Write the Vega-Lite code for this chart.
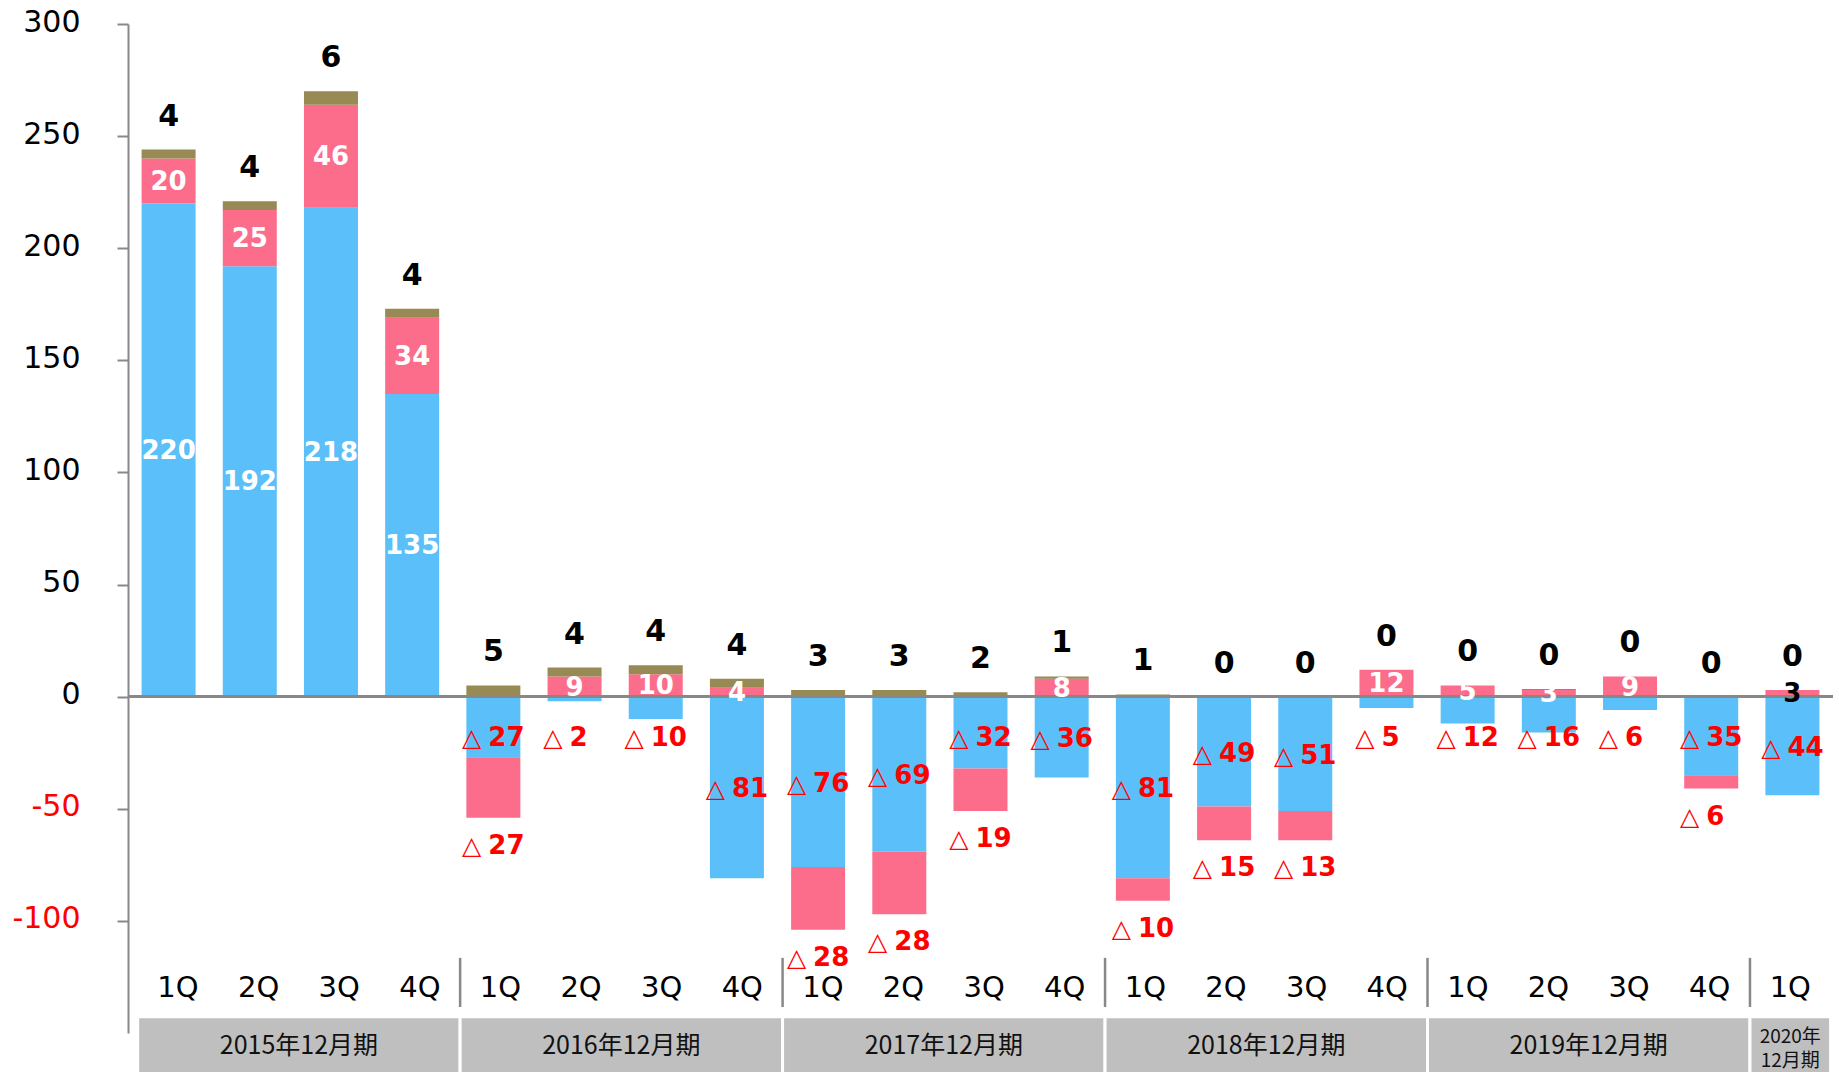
{
  "$schema": "https://vega.github.io/schema/vega-lite/v6.json",
  "width": 1705,
  "height": 1009,
  "autosize": "none",
  "padding": {"left": 128, "top": 24, "right": 6, "bottom": 39},
  "background": "white",
  "config": {"view": {"stroke": null}},
  "datasets": {
    "quarters": [
      {"key": "2015-1Q", "year": "2015", "q": "1Q", "blue": 220, "pink": 20, "olive": 4},
      {"key": "2015-2Q", "year": "2015", "q": "2Q", "blue": 192, "pink": 25, "olive": 4},
      {"key": "2015-3Q", "year": "2015", "q": "3Q", "blue": 218, "pink": 46, "olive": 6},
      {"key": "2015-4Q", "year": "2015", "q": "4Q", "blue": 135, "pink": 34, "olive": 4},
      {"key": "2016-1Q", "year": "2016", "q": "1Q", "blue": -27, "pink": -27, "olive": 5},
      {"key": "2016-2Q", "year": "2016", "q": "2Q", "blue": -2, "pink": 9, "olive": 4},
      {"key": "2016-3Q", "year": "2016", "q": "3Q", "blue": -10, "pink": 10, "olive": 4},
      {"key": "2016-4Q", "year": "2016", "q": "4Q", "blue": -81, "pink": 4, "olive": 4},
      {"key": "2017-1Q", "year": "2017", "q": "1Q", "blue": -76, "pink": -28, "olive": 3},
      {"key": "2017-2Q", "year": "2017", "q": "2Q", "blue": -69, "pink": -28, "olive": 3},
      {"key": "2017-3Q", "year": "2017", "q": "3Q", "blue": -32, "pink": -19, "olive": 2},
      {"key": "2017-4Q", "year": "2017", "q": "4Q", "blue": -36, "pink": 8, "olive": 1},
      {"key": "2018-1Q", "year": "2018", "q": "1Q", "blue": -81, "pink": -10, "olive": 1},
      {"key": "2018-2Q", "year": "2018", "q": "2Q", "blue": -49, "pink": -15, "olive": 0},
      {"key": "2018-3Q", "year": "2018", "q": "3Q", "blue": -51, "pink": -13, "olive": 0},
      {"key": "2018-4Q", "year": "2018", "q": "4Q", "blue": -5, "pink": 12, "olive": 0},
      {"key": "2019-1Q", "year": "2019", "q": "1Q", "blue": -12, "pink": 5, "olive": 0},
      {"key": "2019-2Q", "year": "2019", "q": "2Q", "blue": -16, "pink": 3, "olive": 0.4},
      {"key": "2019-3Q", "year": "2019", "q": "3Q", "blue": -6, "pink": 9, "olive": 0},
      {"key": "2019-4Q", "year": "2019", "q": "4Q", "blue": -35, "pink": -6, "olive": 0},
      {"key": "2020-1Q", "year": "2020", "q": "1Q", "blue": -44, "pink": 3, "olive": 0}
    ],
    "years": [
      {"label": "2015年12月期", "s": 0, "e": 4},
      {"label": "2016年12月期", "s": 4, "e": 8},
      {"label": "2017年12月期", "s": 8, "e": 12},
      {"label": "2018年12月期", "s": 12, "e": 16},
      {"label": "2019年12月期", "s": 16, "e": 20},
      {"label": "2020年\n12月期", "s": 20, "e": 21}
    ]
  },
  "resolve": {"scale": {"x": "independent"}},
  "layer": [
    {
      "data": {"name": "quarters"},
      "transform": [
        {"fold": ["blue", "pink", "olive"], "as": ["series", "value"]},
        {"calculate": "indexof(['blue','pink','olive'], datum.series)", "as": "ord"},
        {"stack": "value", "groupby": ["key"], "sort": [{"field": "ord", "order": "ascending"}], "offset": "zero", "as": ["v0", "v1"]},
        {"calculate": "(datum.v0 + datum.v1) / 2", "as": "mid"},
        {"calculate": "min(datum.v0, datum.v1)", "as": "low"},
        {"calculate": "max(datum.v0, datum.v1)", "as": "high"},
        {"calculate": "format(abs(datum.value), '.0f')", "as": "absLabel"}
      ],
      "layer": [
        {
          "mark": {"type": "bar"},
          "encoding": {
            "x": {"field": "key", "type": "nominal", "scale": {"paddingInner": 0.335, "paddingOuter": 0.1675}, "axis": null},
            "y": {
              "field": "v0", "type": "quantitative",
              "scale": {"domain": [-150, 300], "nice": false, "zero": false},
              "axis": {
                "values": [-100, -50, 0, 50, 100, 150, 200, 250, 300],
                "labelExpr": "'' + datum.value",
                "grid": false, "title": null,
                "domainColor": "#888888", "domainWidth": 2,
                "tickColor": "#888888", "tickWidth": 2, "tickSize": 11,
                "labelPadding": 37, "labelFont": "DejaVu Sans", "labelFontSize": 30,
                "labelFlush": false, "labelOffset": -2,
                "labelColor": {"condition": {"test": "datum.value < 0", "value": "#FF0000"}, "value": "#000000"}
              }
            },
            "y2": {"field": "v1"},
            "color": {
              "field": "series", "type": "nominal",
              "scale": {"domain": ["blue", "pink", "olive"], "range": ["#5BC0F9", "#FB6D8B", "#978A55"]},
              "legend": null
            }
          }
        },
        {
          "mark": {"type": "rule", "color": "#888888", "strokeWidth": 2.5},
          "encoding": {
            "y": {"datum": 0, "scale": {"domain": [-150, 300], "nice": false, "zero": false}, "axis": {"title": null}}
          }
        },
        {
          "transform": [{"filter": "datum.series != 'olive' && datum.value > 0"}],
          "mark": {"type": "text", "font": "DejaVu Sans", "fontWeight": "bold", "fontSize": 26, "align": "center", "baseline": "middle", "dy": 1},
          "encoding": {
            "x": {"field": "key", "type": "nominal", "axis": null},
            "y": {"field": "mid", "type": "quantitative", "scale": {"domain": [-150, 300], "nice": false, "zero": false}, "axis": {"title": null}},
            "text": {"field": "absLabel"},
            "color": {"condition": {"test": "datum.key == '2020-1Q'", "value": "#000000"}, "value": "#FFFFFF"}
          }
        },
        {
          "transform": [
            {"filter": "datum.series == 'blue' && datum.value < 0"},
            {"calculate": "min(datum.mid, -17.5)", "as": "ly"}
          ],
          "mark": {"type": "text", "font": "DejaVu Sans", "fontWeight": "normal", "fontSize": 25, "align": "right", "baseline": "middle", "dx": -12, "dy": 2, "color": "#FF0000"},
          "encoding": {
            "x": {"field": "key", "type": "nominal", "axis": null},
            "y": {"field": "ly", "type": "quantitative", "scale": {"domain": [-150, 300], "nice": false, "zero": false}, "axis": {"title": null}},
            "text": {"value": "△"}
          }
        },
        {
          "transform": [
            {"filter": "datum.series == 'blue' && datum.value < 0"},
            {"calculate": "min(datum.mid, -17.5)", "as": "ly"}
          ],
          "mark": {"type": "text", "font": "DejaVu Sans", "fontWeight": "bold", "fontSize": 26, "align": "left", "baseline": "middle", "dx": -5, "dy": 2, "color": "#FF0000"},
          "encoding": {
            "x": {"field": "key", "type": "nominal", "axis": null},
            "y": {"field": "ly", "type": "quantitative", "scale": {"domain": [-150, 300], "nice": false, "zero": false}, "axis": {"title": null}},
            "text": {"field": "absLabel"}
          }
        },
        {
          "transform": [{"filter": "datum.series == 'pink' && datum.value < 0"}],
          "mark": {"type": "text", "font": "DejaVu Sans", "fontWeight": "normal", "fontSize": 25, "align": "right", "baseline": "middle", "dx": -12, "dy": 28, "color": "#FF0000"},
          "encoding": {
            "x": {"field": "key", "type": "nominal", "axis": null},
            "y": {"field": "low", "type": "quantitative", "scale": {"domain": [-150, 300], "nice": false, "zero": false}, "axis": {"title": null}},
            "text": {"value": "△"}
          }
        },
        {
          "transform": [{"filter": "datum.series == 'pink' && datum.value < 0"}],
          "mark": {"type": "text", "font": "DejaVu Sans", "fontWeight": "bold", "fontSize": 26, "align": "left", "baseline": "middle", "dx": -5, "dy": 28, "color": "#FF0000"},
          "encoding": {
            "x": {"field": "key", "type": "nominal", "axis": null},
            "y": {"field": "low", "type": "quantitative", "scale": {"domain": [-150, 300], "nice": false, "zero": false}, "axis": {"title": null}},
            "text": {"field": "absLabel"}
          }
        },
        {
          "transform": [{"filter": "datum.series == 'olive'"}],
          "mark": {"type": "text", "font": "DejaVu Sans", "fontWeight": "bold", "fontSize": 30, "align": "center", "baseline": "middle", "dy": -33, "color": "#000000"},
          "encoding": {
            "x": {"field": "key", "type": "nominal", "axis": null},
            "y": {"field": "high", "type": "quantitative", "scale": {"domain": [-150, 300], "nice": false, "zero": false}, "axis": {"title": null}},
            "text": {"field": "absLabel"}
          }
        }
      ]
    },
    {
      "layer": [
        {
          "data": {"name": "years"},
          "mark": {"type": "rect", "fill": "#BFBFBF", "stroke": "#FFFFFF", "strokeWidth": 3},
          "encoding": {
            "x": {"field": "s", "type": "quantitative", "scale": {"domain": [-0.12, 21.03], "nice": false, "zero": false}, "axis": null},
            "x2": {"field": "e"},
            "y": {"datum": -142.7, "scale": {"domain": [-150, 300], "nice": false, "zero": false}, "axis": {"title": null}},
            "y2": {"datum": -170}
          }
        },
        {
          "data": {"name": "years"},
          "transform": [{"filter": "datum.s > 0"}],
          "mark": {"type": "rule", "color": "#888888", "strokeWidth": 2.5},
          "encoding": {
            "x": {"field": "s", "type": "quantitative", "scale": {"domain": [-0.12, 21.03], "nice": false, "zero": false}, "axis": null},
            "y": {"datum": -116.5, "scale": {"domain": [-150, 300], "nice": false, "zero": false}, "axis": {"title": null}},
            "y2": {"datum": -138.4}
          }
        },
        {
          "data": {"name": "years"},
          "transform": [
            {"filter": "datum.e - datum.s > 1"},
            {"calculate": "(datum.s + datum.e) / 2", "as": "m"}
          ],
          "mark": {"type": "text", "font": "Noto Sans CJK JP", "fontSize": 25, "align": "center", "baseline": "middle", "color": "#111111"},
          "encoding": {
            "x": {"field": "m", "type": "quantitative", "scale": {"domain": [-0.12, 21.03], "nice": false, "zero": false}, "axis": null},
            "y": {"datum": -156, "scale": {"domain": [-150, 300], "nice": false, "zero": false}, "axis": {"title": null}},
            "text": {"field": "label"}
          }
        },
        {
          "data": {"name": "years"},
          "transform": [
            {"filter": "datum.e - datum.s == 1"},
            {"calculate": "(datum.s + datum.e) / 2", "as": "m"}
          ],
          "mark": {"type": "text", "font": "Noto Sans CJK JP", "fontSize": 19, "lineHeight": 24, "lineBreak": "\n", "align": "center", "baseline": "middle", "dy": -9, "color": "#111111"},
          "encoding": {
            "x": {"field": "m", "type": "quantitative", "scale": {"domain": [-0.12, 21.03], "nice": false, "zero": false}, "axis": null},
            "y": {"datum": -156, "scale": {"domain": [-150, 300], "nice": false, "zero": false}, "axis": {"title": null}},
            "text": {"field": "label"}
          }
        },
        {
          "data": {"name": "quarters"},
          "transform": [
            {"window": [{"op": "row_number", "as": "i"}]},
            {"calculate": "datum.i - 0.5", "as": "c"}
          ],
          "mark": {"type": "text", "font": "DejaVu Sans", "fontSize": 29, "align": "center", "baseline": "middle", "color": "#000000"},
          "encoding": {
            "x": {"field": "c", "type": "quantitative", "scale": {"domain": [-0.12, 21.03], "nice": false, "zero": false}, "axis": null},
            "y": {"datum": -130, "scale": {"domain": [-150, 300], "nice": false, "zero": false}, "axis": {"title": null}},
            "text": {"field": "q"}
          }
        }
      ]
    }
  ]
}
